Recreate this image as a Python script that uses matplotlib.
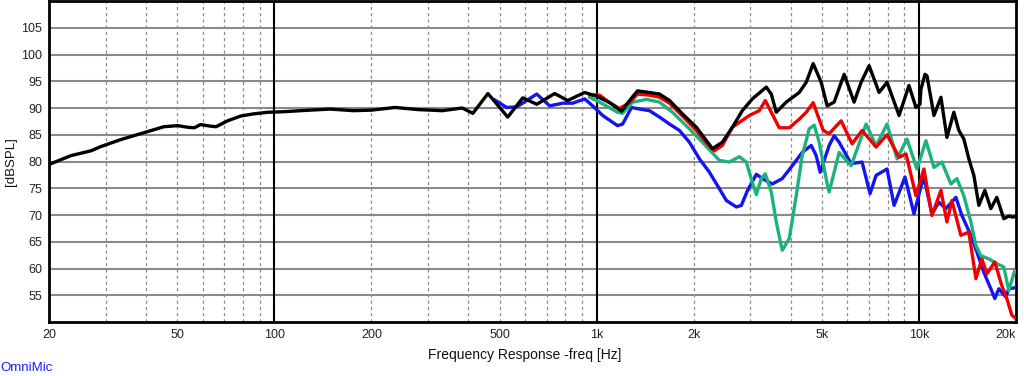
import matplotlib
matplotlib.use("Agg")
import matplotlib.pyplot as plt
from matplotlib.ticker import FixedLocator, NullFormatter

plt.rcParams['font.family'] = ['Liberation Sans', 'DejaVu Sans']

# ---- data ----
black_f = [20, 20.3, 23.4, 27.0, 29.0, 33.4, 40.5, 45.4, 50.2, 53.9, 56.5, 59.0, 63.5, 66, 71.6, 78.7,
           86.2, 95.3, 106.7, 120.6, 149, 176, 200, 237, 280, 332, 383, 413, 460, 530, 590,
           652, 741, 813, 918, 1000, 1097, 1195, 1265, 1339, 1459, 1567, 1683, 1846, 2039,
           2191, 2287, 2455, 2637, 2831, 3041, 3360, 3482, 3608, 3874, 4251, 4469, 4697,
           4973, 5190, 5456, 5859, 6292, 6613, 7003, 7520, 7961, 8675, 9311, 9788, 10070,
           10140, 10440, 10590, 11130, 11700, 12210, 12830, 13300, 13780, 14280, 14800,
           15340, 16010, 16710, 17440, 18330, 18990, 19540, 19820]
black_db = [79.5, 79.6, 81.1, 82.0, 82.8, 84.1, 85.6, 86.5, 86.7, 86.4, 86.3, 86.9, 86.6, 86.5, 87.6, 88.5,
            88.9, 89.2, 89.3, 89.5, 89.8, 89.5, 89.6, 90.1, 89.7, 89.5, 90.0, 89.0, 92.7, 88.3, 91.9,
            90.7, 92.7, 91.4, 92.9, 92.2, 91.0, 89.4, 91.4, 93.2, 92.9, 92.6, 91.4, 88.9, 86.4,
            83.9, 82.4, 83.6, 86.4, 89.5, 91.7, 93.9, 92.6, 89.2, 91.1, 92.9, 94.8, 98.3,
            94.8, 90.4, 91.1, 96.3, 91.1, 94.8, 97.9, 92.9, 94.8, 88.6, 94.2, 90.1, 90.7,
            93.5, 96.3, 96.0, 88.6, 92.0, 84.5, 89.2, 85.8, 84.2, 80.5, 77.4,
            71.8, 74.6, 71.2, 73.3, 69.3, 69.8, 69.6, 69.7]

red_f = [951, 1021, 1097, 1178, 1265, 1339, 1459, 1567, 1683, 1846, 2039, 2191, 2318, 2455,
         2637, 2976, 3196, 3336, 3482, 3686, 3958, 4251, 4469, 4697, 4860, 5050, 5265, 5735,
         6203, 6660, 7361, 7961, 8675, 9118, 9788, 10360, 10970, 11700, 12210, 12650, 13490,
         14280, 15020, 15670, 16240, 17190, 18070, 18730, 19410, 19820]
red_db = [92.5, 92.4, 91.0, 89.9, 91.0, 92.6, 92.4, 92.0, 90.9, 88.5, 85.8, 83.5, 82.0, 83.0,
          86.4, 88.6, 89.5, 91.4, 89.2, 86.3, 86.3, 87.9, 89.2, 91.0, 88.5, 85.8, 85.2, 87.6,
          83.3, 85.8, 82.7, 85.0, 80.8, 81.4, 73.6, 78.6, 69.9, 74.6, 68.7, 72.7, 66.2,
          66.8, 58.1, 61.8, 59.0, 61.2, 56.8, 54.4, 51.3, 50.8]

green_f = [951, 1021, 1161, 1204, 1293, 1428, 1567, 1719, 1940, 2129, 2404, 2581, 2772, 2913,
           3041, 3129, 3242, 3336, 3482, 3608, 3765, 3958, 4161, 4343, 4565, 4731, 4903, 5190,
           5265, 5654, 6159, 6855, 7361, 7961, 8551, 9180, 9858, 10510, 11130, 11780, 12560,
           13110, 13780, 14490, 15020, 15560, 16470, 17440, 18330, 18990, 19820]
green_db = [92.0, 91.1, 89.2, 89.0, 91.1, 91.6, 91.1, 89.2, 86.1, 83.6, 80.2, 79.9, 80.9, 79.9,
            76.1, 73.8, 76.8, 77.7, 74.3, 68.7, 63.4, 65.6, 73.6, 81.1, 86.1, 86.8, 83.6, 75.8,
            74.3, 81.7, 79.2, 87.0, 82.9, 87.0, 80.5, 84.2, 78.6, 83.9, 78.9, 79.9, 75.8,
            76.8, 73.6, 68.7, 64.3, 62.4, 61.8, 60.9, 60.3, 55.9, 59.6]

blue_f = [483, 526, 565, 652, 715, 785, 843, 918, 972, 1044, 1161, 1204, 1283, 1359, 1459,
          1567, 1683, 1807, 1940, 2084, 2238, 2404, 2527, 2713, 2812, 2934, 3129, 3312, 3507,
          3765, 4044, 4343, 4631, 4799, 4938, 5265, 5456, 5654, 6159, 6660, 7050, 7361, 7961,
          8370, 9053, 9650, 10100, 10360, 10970, 11530, 12120, 13020, 13590, 14490, 15120,
          15890, 16710, 17190, 17690, 18590, 18990, 19820]
blue_db = [91.5, 90.1, 90.2, 92.6, 90.4, 90.9, 90.9, 91.7, 90.4, 88.6, 86.7, 87.0, 90.1, 89.8, 89.5,
           88.3, 87.0, 85.8, 83.6, 80.5, 78.0, 74.9, 72.7, 71.5, 71.8, 74.5, 77.6, 76.6, 75.8,
           76.8, 79.2, 81.7, 83.0, 81.1, 78.0, 83.0, 84.8, 83.6, 79.6, 79.9, 74.0, 77.4, 78.6,
           71.8, 77.1, 70.2, 74.9, 77.1, 70.2, 72.4, 71.2, 73.3, 69.9, 66.2, 63.1,
           59.3, 56.2, 54.4, 56.2, 54.7, 56.2, 56.4]

x_ticks = [20, 50, 100, 200, 500, 1000, 2000, 5000, 10000, 20000]
x_tick_labels = ['20', '50', '100', '200', '500', '1k', '2k', '5k', '10k', '20k']
y_ticks = [55, 60, 65, 70, 75, 80, 85, 90, 95, 100, 105]
decade_lines = [100, 1000, 10000]
minor_lines = [30, 40, 50, 60, 70, 80, 90, 200, 300, 400, 500, 600, 700, 800, 900,
               2000, 3000, 4000, 5000, 6000, 7000, 8000, 9000]

# ---- figure ----
fig = plt.figure(figsize=(10.24, 3.76), dpi=100)
ax = fig.add_axes([49/1024, 1 - 322/376, (1016-49)/1024, 321/376])
ax.set_xscale('log')
ax.set_xlim(20, 20000)
ax.set_ylim(50, 110)

for y in y_ticks:
    ax.axhline(y, color='#8a8a8a', lw=1.5, zorder=1)
for xv in minor_lines:
    ax.axvline(xv, color='#8a8a8a', lw=0.9, ls=(0, (2.5, 2.5)), zorder=1)
for xv in decade_lines:
    ax.axvline(xv, color='black', lw=1.5, zorder=1)

lw = 2.4
ax.plot(blue_f, blue_db, color='#1414ee', lw=lw, zorder=3, solid_joinstyle='round')
ax.plot(green_f, green_db, color='#1cb27e', lw=lw, zorder=4, solid_joinstyle='round')
ax.plot(red_f, red_db, color='#f00000', lw=lw, zorder=5, solid_joinstyle='round')
ax.plot(black_f, black_db, color='black', lw=lw, zorder=6, solid_joinstyle='round')

ax.xaxis.set_major_locator(FixedLocator(x_ticks))
ax.xaxis.set_minor_locator(FixedLocator([]))
ax.xaxis.set_minor_formatter(NullFormatter())
ax.set_xticklabels(x_tick_labels)
ax.set_yticks(y_ticks)
ax.tick_params(axis='both', length=0, labelsize=9, colors='#222222')
ax.tick_params(axis='x', pad=5)
ax.tick_params(axis='y', pad=5)
xt = ax.get_xticklabels()
xt[-1].set_ha('right')

for s in ax.spines.values():
    s.set_linewidth(2.0)
    s.set_color('black')

ax.set_xlabel('Frequency Response -freq [Hz]', fontsize=10, color='#111111')
ax.xaxis.set_label_coords((525 - 49) / 967, -(348 - 322) / 321)
ax.set_ylabel('[dBSPL]', fontsize=9.5, color='#111111')
ax.yaxis.set_label_coords((17 - 49) / 967, 0.5)

fig.text(0.0, 8/376, 'OmniMic', color='#1a1aff', fontsize=9.5, ha='left', va='center')

fig.savefig('out.png', dpi=100)
